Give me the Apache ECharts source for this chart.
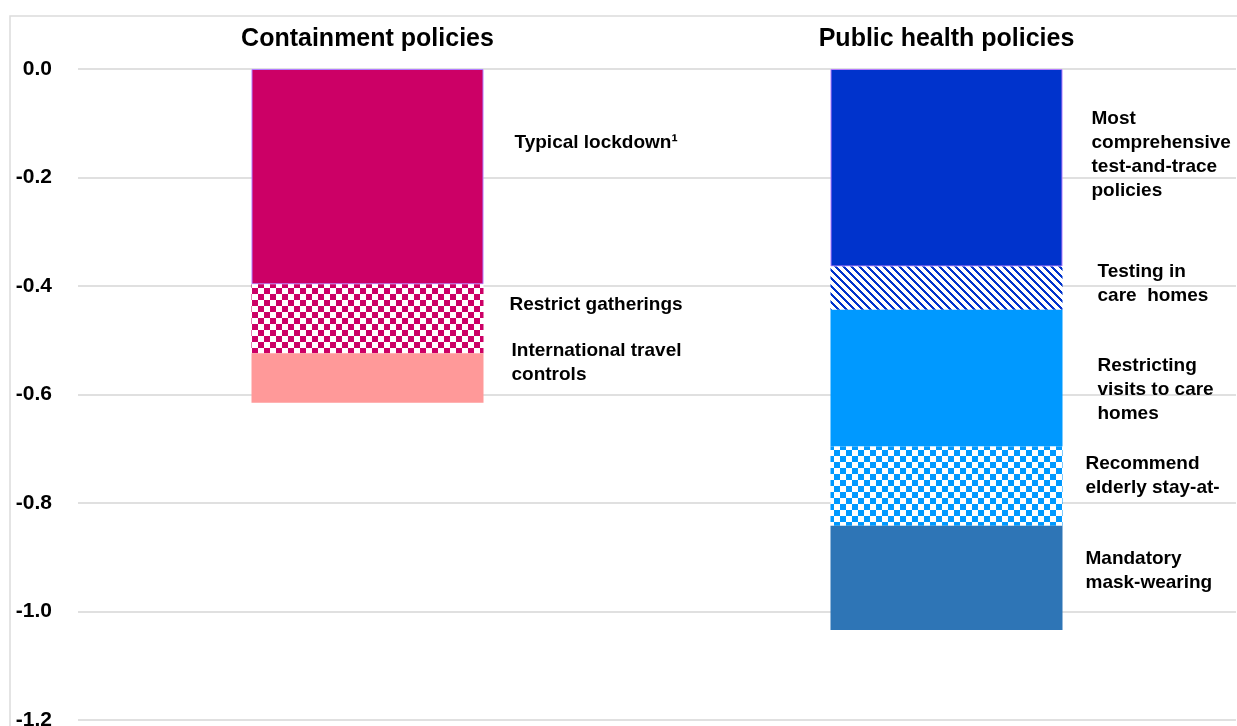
<!DOCTYPE html>
<html>
<head>
<meta charset="utf-8">
<script src="https://cdn.jsdelivr.net/npm/echarts@6/dist/echarts.min.js"></script>
<style>
  html, body { margin: 0; padding: 0; background: #fff; }
  #chart { width: 1237px; height: 726px; }
</style>
</head>
<body>
<div id="chart"></div>
<script>
// ---- data ----
const categories = ['Containment policies', 'Public health policies'];

const containmentNames = ['Typical lockdown¹', 'Restrict gatherings', 'International travel\ncontrols'];
const containmentValues = [-0.397, -0.127, -0.091];

const publicNames = [
  'Most\ncomprehensive\ntest-and-trace\npolicies',
  'Testing in\ncare  homes',
  'Restricting\nvisits to care\nhomes',
  'Recommend\nelderly stay-at-',
  'Mandatory\nmask-wearing'
];
const publicValues = [-0.364, -0.080, -0.252, -0.146, -0.192];

const yMin = -1.2, yMax = 0, yStep = 0.2;

// ---- styles ----
function checker(color, cell) {
  const c = document.createElement('canvas');
  c.width = cell * 2; c.height = cell * 2;
  const ctx = c.getContext('2d');
  ctx.fillStyle = '#ffffff'; ctx.fillRect(0, 0, c.width, c.height);
  ctx.fillStyle = color;
  ctx.fillRect(0, 0, cell, cell);
  ctx.fillRect(cell, cell, cell, cell);
  return { image: c, repeat: 'repeat' };
}
function stripes(color, period, w) {
  const c = document.createElement('canvas');
  c.width = period; c.height = period;
  const ctx = c.getContext('2d');
  ctx.fillStyle = '#ffffff'; ctx.fillRect(0, 0, period, period);
  ctx.fillStyle = color;
  for (let x = 0; x < period; x++) {
    for (let y = 0; y < period; y++) {
      if ((((x - y) % period) + period) % period < w) ctx.fillRect(x, y, 1, 1);
    }
  }
  return { image: c, repeat: 'repeat' };
}

const containmentFills = ['#CC0066', checker('#CC0066', 6), '#FF9999'];
const publicFills = ['#0033CC', stripes('#0033CC', 8, 3), '#0099FF', checker('#0099FF', 6), '#2E75B6'];
const containmentOffsets = [[31, -34], [26, -14], [28, -15]];
const publicOffsets = [[29, -13], [35, -4], [35, 12], [23, -10], [23, -7]];

const labelStyle = {
  show: true, position: 'right', distance: 0,
  color: '#000', fontSize: 19, fontWeight: 'bold', lineHeight: 24,
  fontFamily: 'Liberation Sans, Arial, sans-serif', align: 'left'
};

const series = [];
containmentValues.forEach((v, i) => {
  series.push({
    type: 'bar', stack: 'total', name: containmentNames[i],
    barWidth: 232,
    data: [v, '-'],
    itemStyle: Object.assign({ color: containmentFills[i] },
      i === 0 ? { borderColor: '#b37dff', borderWidth: 1 } : {}),
    label: Object.assign({}, labelStyle, { offset: containmentOffsets[i], formatter: containmentNames[i] })
  });
});
publicValues.forEach((v, i) => {
  series.push({
    type: 'bar', stack: 'total', name: publicNames[i],
    barWidth: 232,
    data: ['-', v],
    itemStyle: Object.assign({ color: publicFills[i] },
      i === 0 ? { borderColor: '#b37dff', borderWidth: 1 } : {}),
    label: Object.assign({}, labelStyle, { offset: publicOffsets[i], formatter: publicNames[i] })
  });
});

const chart = echarts.init(document.getElementById('chart'), null, { renderer: 'canvas' });
chart.setOption({
  animation: false,
  backgroundColor: '#ffffff',
  grid: { left: 78, right: 1, top: 69, bottom: 6, containLabel: false, outerBoundsMode: 'none' },
  graphic: [{
    type: 'rect', silent: true, z: -10,
    shape: { x: 10, y: 16, width: 1400, height: 900 },
    style: { fill: 'none', stroke: '#dcdcdc', lineWidth: 1.5 }
  }],
  xAxis: {
    type: 'category', position: 'top', data: categories,
    axisLine: { show: false }, axisTick: { show: false },
    axisLabel: {
      margin: 17, color: '#000', fontSize: 25, fontWeight: 'bold',
      fontFamily: 'Liberation Sans, Arial, sans-serif'
    }
  },
  yAxis: {
    type: 'value', min: yMin, max: yMax, interval: yStep,
    axisLine: { show: false }, axisTick: { show: false },
    splitLine: { show: true, lineStyle: { color: '#e0e0e0', width: 2 } },
    axisLabel: {
      margin: 26, color: '#000', fontSize: 21, fontWeight: 'bold',
      fontFamily: 'Liberation Sans, Arial, sans-serif',
      padding: [3, 0, 0, 0],
      formatter: v => v.toFixed(1)
    }
  },
  series: series
});
</script>
</body>
</html>
